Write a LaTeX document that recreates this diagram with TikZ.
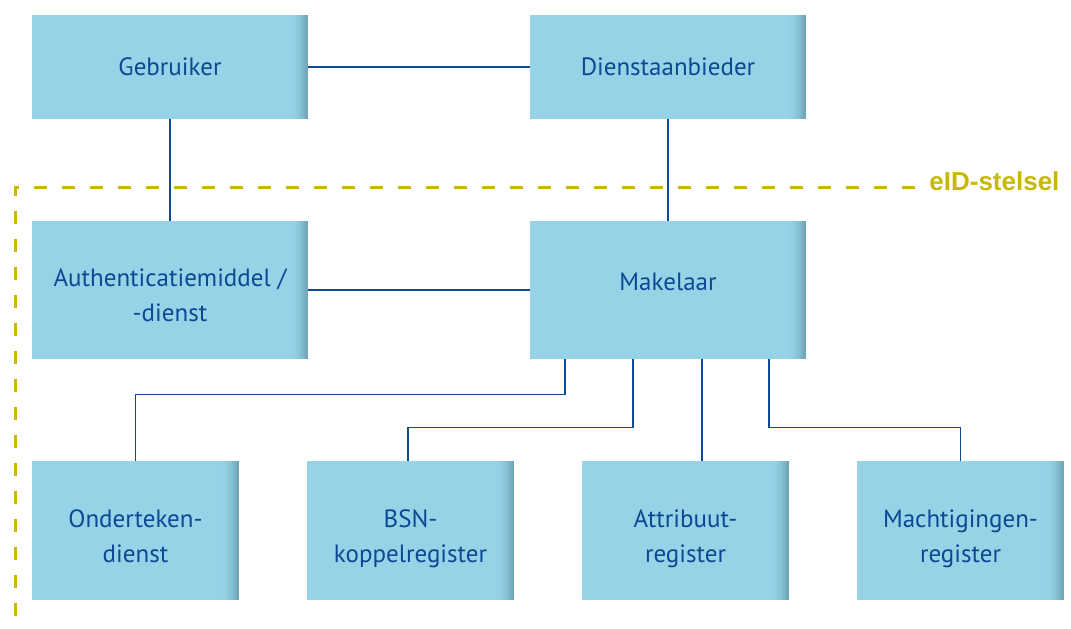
\documentclass[tikz,border=0pt]{standalone}
\usepackage{fontspec}
\setmainfont{PT Sans}
\newfontfamily\labelfont{Liberation Sans}
\usepackage{xcolor}
\usepackage{tikz}
\usetikzlibrary{shapes,arrows,arrows.meta,positioning}

\definecolor{boxFill}{HTML}{96D3E7}
\definecolor{boxEdge}{HTML}{6FA6B8}
\definecolor{textBlue}{HTML}{0C4893}
\definecolor{lineBlue}{HTML}{0D4B98}
\definecolor{eidYellow}{HTML}{C9B800}

\begin{document}
\begin{tikzpicture}[x=0.5pt,y=-0.5pt,
  box/.style={rectangle, fill=boxFill, inner sep=0, align=center, text=textBlue, font=\fontsize{12.5}{17.5}\selectfont,
    path picture={\foreach \i [evaluate=\i as \p using {\i*\i*100/81}] in {1,...,9}
      \fill[boxEdge!\p!boxFill] ([xshift=-10pt+\i pt]path picture bounding box.north east) rectangle ([xshift=-9pt+\i pt]path picture bounding box.south east);}},
  twoline/.style={text height=34.5pt, text depth=3pt},
  top/.style={box, minimum width=138pt, minimum height=52pt},
  mid/.style={box, minimum width=138pt, minimum height=69pt},
  low/.style={box, twoline, minimum width=103.5pt, minimum height=69.5pt},
  line/.style={draw=lineBlue, line width=0.9pt},
  stelsel/.style={draw=eidYellow, line width=1.5pt, dash pattern=on 6.5pt off 7.5pt}]

\useasboundingbox (0,0) rectangle (1071,628);

\node[top] (boxGebruiker) at (170,67)  {Gebruiker};
\node[top] (boxDienst)    at (668,67)  {Dienstaanbieder};
\node[mid,twoline] (boxAuth) at (170,290) {Authenticatiemiddel /\\-dienst};
\node[mid,text depth=8pt] (boxMakelaar) at (668,290) {Makelaar};
\node[low] (boxOnder)     at (135.5,530.5) {Onderteken-\\dienst};
\node[low] (boxBSN)       at (410.5,530.5) {BSN-\\koppelregister};
\node[low] (boxAttr)      at (685.5,530.5) {Attribuut-\\register};
\node[low] (boxMacht)     at (960.5,530.5) {Machtigingen-\\register};

\node[anchor=base west, inner sep=0, text=eidYellow, font=\labelfont\bfseries\fontsize{13}{15}\selectfont] (eidLabel) at (929,190) {eID-stelsel};
\coordinate (corner) at (15,187);
\coordinate (bottom) at (15,628);

\draw [line] (boxGebruiker) -- (boxDienst);
\draw [line] (boxGebruiker) -- (boxAuth);
\draw [line] (boxDienst)    -- (boxMakelaar);
\draw [line] (boxAuth)      -- (boxMakelaar);

\draw [line] ([xshift=-51.5pt]boxMakelaar.south) -- ++(0,-17.5pt) -| (boxOnder.north);
\draw [line] ([xshift=-17.5pt]boxMakelaar.south) -- ++(0,-34pt) -| ([xshift=-1.25pt]boxBSN.north);
\draw [line] ([xshift=17pt]boxMakelaar.south) coordinate (m3) -- (m3 |- boxAttr.north);
\draw [line] ([xshift=50.5pt]boxMakelaar.south) -- ++(0,-34pt) -| (boxMacht.north);

\draw [stelsel] ([xshift=-7pt]corner -| eidLabel.west) -- (corner) -- (bottom);
\end{tikzpicture}
\end{document}
